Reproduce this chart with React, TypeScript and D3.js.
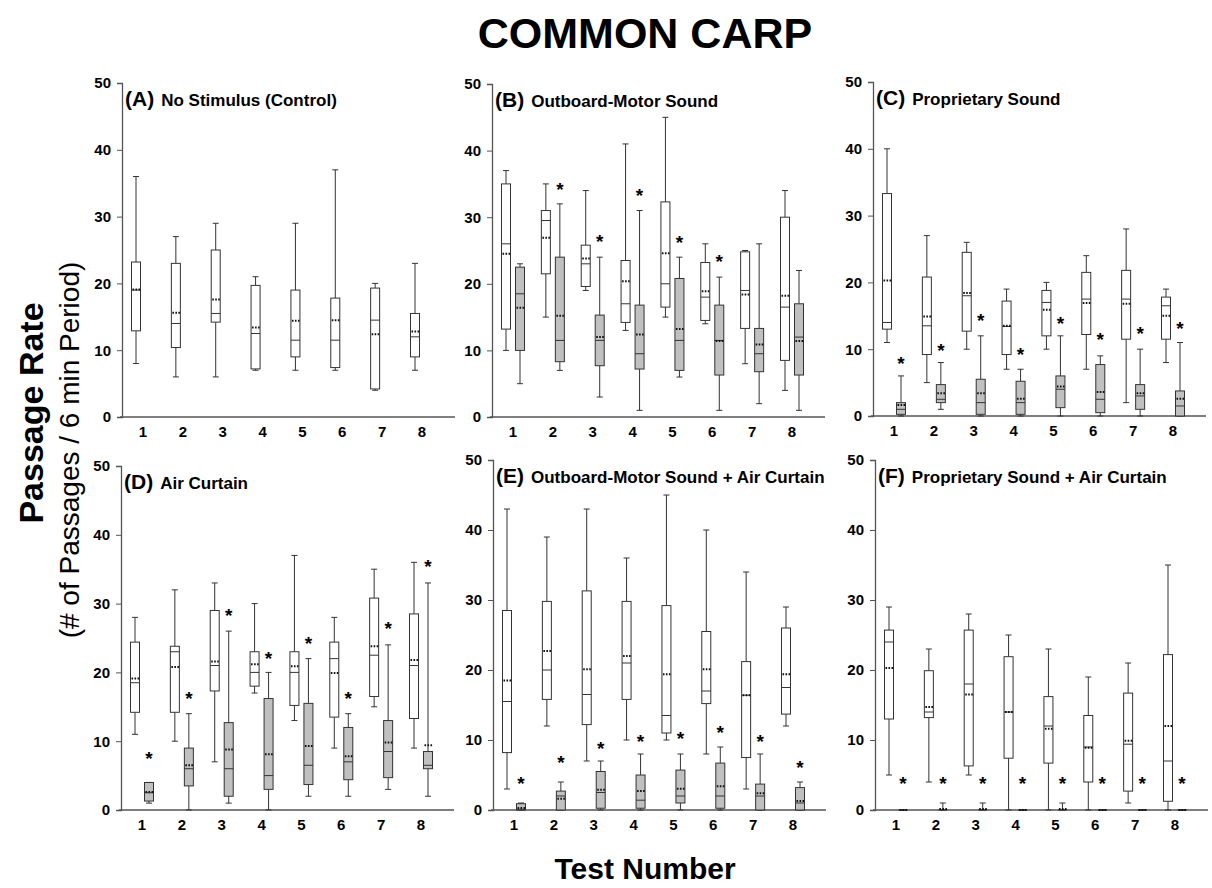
import React, { useEffect, useRef } from "react";
import * as d3 from "d3";

// each box: [whiskerLow, q1, median, q3, whiskerHigh, mean]
type Box = number[];

const tests = [1, 2, 3, 4, 5, 6, 7, 8];
const yTicks = [0, 10, 20, 30, 40, 50];

const panelTags = ["(A)", "(B)", "(C)", "(D)", "(E)", "(F)"];
const panelNames = [
  "No Stimulus (Control)",
  "Outboard-Motor Sound",
  "Proprietary Sound",
  "Air Curtain",
  "Outboard-Motor Sound + Air Curtain",
  "Proprietary Sound + Air Curtain",
];

// (A) control
const aOff: Box[] = [
  [8, 12.9, 19, 23.2, 36, 19.1],
  [6, 10.4, 14, 23, 27, 15.6],
  [6, 14.2, 15.5, 25, 29, 17.6],
  [7, 7.2, 12.5, 19.7, 21, 13.4],
  [7, 9, 11.5, 19, 29, 14.4],
  [7, 7.4, 11.5, 17.8, 37, 14.5],
  [4, 4.2, 14.5, 19.3, 20, 12.4],
  [7, 9, 12, 15.5, 23, 12.8],
];

// (B) outboard-motor sound
const bOff: Box[] = [
  [10, 13.2, 26, 35, 37, 24.5],
  [15, 21.5, 29.5, 31, 35, 26.9],
  [19, 19.6, 23, 25.8, 34, 23.8],
  [13, 14.2, 17, 23.5, 41, 20.4],
  [15, 16.5, 20, 32.3, 45, 24.6],
  [14, 14.5, 18, 23.2, 26, 18.9],
  [8, 13.3, 19, 24.8, 25, 18.4],
  [4, 8.5, 16.5, 30, 34, 18.2],
];
const bOn: Box[] = [
  [5, 10, 18.5, 22.5, 23, 16.4],
  [7, 8.3, 11.5, 24, 32, 15.2],
  [3, 7.7, 11.5, 15.3, 24, 12],
  [1, 7.2, 9.5, 16.8, 31, 12.4],
  [6, 7, 11.5, 20.8, 24, 13.2],
  [1, 6.3, 11.5, 16.8, 21, 11.4],
  [2, 6.8, 9.5, 13.3, 26, 10.9],
  [1, 6.3, 12, 17, 22, 11.4],
];
const bStars = [null, 34.8, 27, 33.9, 26.9, 24, null, null];

// (C) proprietary sound
const cOff: Box[] = [
  [11, 13, 14, 33.3, 40, 20.3],
  [5, 9.2, 13.5, 20.8, 27, 14.9],
  [10, 12.7, 18, 24.5, 26, 18.4],
  [7, 9.2, 13.4, 17.2, 19, 13.5],
  [10, 12, 17, 18.8, 20, 15.9],
  [7, 12.2, 17.5, 21.5, 24, 16.9],
  [2, 11.5, 17.5, 21.8, 28, 16.8],
  [8, 11.5, 16.5, 17.8, 19, 15],
];
const cOn: Box[] = [
  [0, 0.25, 1, 2, 6, 1.65],
  [1, 2, 2.5, 4.7, 8, 3.4],
  [0, 0.25, 2, 5.5, 12, 3.4],
  [0, 0.25, 2, 5.2, 7, 2.6],
  [0, 1.25, 4, 6, 12, 4.4],
  [0, 0.5, 2.5, 7.7, 9, 3.6],
  [0, 1, 3, 4.7, 10, 3.4],
  [0, 0, 1.5, 3.75, 11, 2.6],
];
const cStars = [8.5, 10.5, 15, 9.9, 14.5, 12.1, 13, 13.8];

// (D) air curtain
const dOff: Box[] = [
  [11, 14.2, 18.5, 24.4, 28, 19.1],
  [10, 14.2, 23, 23.8, 32, 20.8],
  [7, 17.3, 21, 29, 33, 21.6],
  [17, 18, 20, 23, 30, 21.2],
  [13, 15.2, 20, 23, 37, 20.9],
  [9, 13.5, 22, 24.4, 28, 19.9],
  [15, 16.5, 22.5, 30.8, 35, 23.8],
  [9, 13.3, 21, 28.5, 36, 21.8],
];
const dOn: Box[] = [
  [1, 1.3, 2.5, 4, 4, 2.6],
  [0, 3.5, 6, 9, 14, 6.5],
  [1, 2, 6, 12.7, 26, 8.8],
  [0, 3, 5, 16.2, 20, 8.1],
  [2, 3.7, 6.5, 15.5, 22, 9.3],
  [2, 4.4, 7, 12, 14, 7.8],
  [3, 4.7, 8.5, 13, 24, 9.8],
  [2, 6, 6.5, 8.5, 33, 9.4],
];
const dStars = [8.2, 16.9, 28.9, 22.7, 24.9, 16.9, 27, 36];

// (E) outboard-motor sound + air curtain
const eOff: Box[] = [
  [3, 8.2, 15.5, 28.5, 43, 18.5],
  [12, 15.8, 20, 29.8, 39, 22.7],
  [7, 12.2, 16.5, 31.3, 43, 20.1],
  [10, 15.8, 21, 29.8, 36, 22],
  [10, 11, 13.5, 29.2, 45, 19.4],
  [8, 15.2, 17, 25.5, 40, 20.1],
  [3, 7.5, 16.4, 21.2, 34, 16.4],
  [12, 13.7, 17.5, 26, 29, 19.4],
];
const eOn: Box[] = [
  [0, 0, 0.1, 0.9, 1, 0.3],
  [0, 0, 2, 2.7, 4, 1.6],
  [0, 0.25, 2.5, 5.5, 7, 2.9],
  [0, 0.25, 1.4, 5, 8, 2.7],
  [0, 1, 2, 5.7, 8, 3.05],
  [0, 0.25, 2, 6.7, 9, 3.4],
  [0, 0, 2, 3.7, 8, 2.4],
  [0, 0, 1, 3.2, 4, 1.3],
];
const eStars = [4.5, 7.4, 9.4, 10.5, 10.9, 11.7, 10.4, 6.7];

// (F) proprietary sound + air curtain
const fOff: Box[] = [
  [5, 13, 24, 25.7, 29, 20.3],
  [4, 13.2, 14, 19.9, 23, 14.7],
  [5, 6.3, 18, 25.7, 28, 16.5],
  [0, 7.4, 14, 21.9, 25, 14],
  [0, 6.7, 12, 16.2, 23, 11.6],
  [0, 4, 9, 13.5, 19, 8.9],
  [1, 2.7, 9.4, 16.7, 21, 9.9],
  [0, 1.25, 7, 22.2, 35, 12],
];
const fOn: Box[] = [
  [0, 0, 0, 0, 0, 0],
  [0, 0, 0, 0, 1, 0.15],
  [0, 0, 0, 0, 1, 0.15],
  [0, 0, 0, 0, 0, 0],
  [0, 0, 0, 0, 1, 0.15],
  [0, 0, 0, 0, 0, 0],
  [0, 0, 0, 0, 0, 0],
  [0, 0, 0, 0, 0, 0],
];
const fStars = [4.5, 4.5, 4.5, 4.5, 4.5, 4.5, 4.5, 4.5];

const offSeries = [aOff, bOff, cOff, dOff, eOff, fOff];
const onSeries = [null, bOn, cOn, dOn, eOn, fOn];
const starSeries = [null, bStars, cStars, dStars, eStars, fStars];

// panel frames (pixel layout)
const frames = [
  { x0: 122, top: 83, bottom: 417 },
  { x0: 492, top: 84, bottom: 417 },
  { x0: 873, top: 82, bottom: 416 },
  { x0: 121, top: 466, bottom: 810 },
  { x0: 493, top: 460, bottom: 810 },
  { x0: 875, top: 460, bottom: 810 },
];

const W = 1212;
const H = 888;
const FONT = "'Liberation Sans', Arial, sans-serif";

const App = () => {
  const svgRef = useRef(null);

  useEffect(() => {
    const svg = d3.select(svgRef.current);
    svg.selectAll("*").remove();

    svg
      .append("text")
      .attr("x", 645)
      .attr("y", 48)
      .attr("text-anchor", "middle")
      .attr("font-size", 43)
      .attr("font-weight", "bold")
      .text("COMMON CARP");

    svg
      .append("text")
      .attr("transform", "translate(43,413) rotate(-90)")
      .attr("text-anchor", "middle")
      .attr("font-size", 34)
      .attr("font-weight", "bold")
      .text("Passage Rate");

    svg
      .append("text")
      .attr("transform", "translate(79,450) rotate(-90)")
      .attr("text-anchor", "middle")
      .attr("font-size", 28)
      .text("(# of Passages / 6 min Period)");

    svg
      .append("text")
      .attr("x", 645)
      .attr("y", 879)
      .attr("text-anchor", "middle")
      .attr("font-size", 30)
      .attr("font-weight", "bold")
      .text("Test Number");

    const boxW = 9;
    const capW = 6;
    const off = 7;

    frames.forEach((f, i) => {
      const g = svg.append("g");
      const x = d3
        .scalePoint()
        .domain(tests.map(String))
        .range([f.x0 + 21, f.x0 + 300]);
      const y = d3.scaleLinear().domain([0, 50]).range([f.bottom, f.top]);

      // y axis
      const yAx = g
        .append("g")
        .attr("transform", `translate(${f.x0},0)`)
        .call(d3.axisLeft(y).tickValues(yTicks).tickSize(5).tickPadding(6));
      yAx.select(".domain").attr("stroke", "#555").attr("stroke-width", 1.3);
      yAx.selectAll(".tick line").attr("stroke", "#555");
      yAx
        .selectAll(".tick text")
        .attr("font-size", 15)
        .attr("font-weight", "bold")
        .attr("font-family", FONT)
        .attr("fill", "#000");

      // x axis
      g.append("line")
        .attr("x1", f.x0 - 2)
        .attr("x2", f.x0 + 333)
        .attr("y1", f.bottom)
        .attr("y2", f.bottom)
        .attr("stroke", "#555")
        .attr("stroke-width", 1.3);
      g.selectAll(".xl")
        .data(tests)
        .join("text")
        .attr("x", (d) => x(String(d)))
        .attr("y", f.bottom + 20)
        .attr("text-anchor", "middle")
        .attr("font-size", 15)
        .attr("font-weight", "bold")
        .text((d) => d);

      // panel title
      const t = g
        .append("text")
        .attr("x", f.x0 + 3)
        .attr("y", f.top + 23)
        .attr("font-weight", "bold");
      t.append("tspan").attr("font-size", 21).text(panelTags[i]);
      t.append("tspan").attr("dx", 7).attr("font-size", 17).text(panelNames[i]);

      const drawBoxes = (data, dx, fill) => {
        const bg = g.append("g");
        data.forEach((b, k) => {
          const cx = x(String(tests[k])) + dx;
          const [lo, q1, med, q3, hi, mean] = b;
          const ln = (x1, y1, x2, y2) =>
            bg
              .append("line")
              .attr("x1", x1)
              .attr("y1", y1)
              .attr("x2", x2)
              .attr("y2", y2)
              .attr("stroke", "#333")
              .attr("stroke-width", 1);
          // whiskers
          ln(cx, y(hi), cx, y(q3));
          ln(cx, y(q1), cx, y(lo));
          ln(cx - capW / 2, y(hi), cx + capW / 2, y(hi));
          ln(cx - capW / 2, y(lo), cx + capW / 2, y(lo));
          // box
          bg.append("rect")
            .attr("x", cx - boxW / 2)
            .attr("y", y(q3))
            .attr("width", boxW)
            .attr("height", Math.max(0, y(q1) - y(q3)))
            .attr("fill", fill)
            .attr("stroke", "#333")
            .attr("stroke-width", 1);
          // median
          ln(cx - boxW / 2, y(med), cx + boxW / 2, y(med));
          // mean (dotted)
          bg.append("line")
            .attr("x1", cx - boxW / 2 + 1)
            .attr("x2", cx + boxW / 2)
            .attr("y1", y(mean))
            .attr("y2", y(mean))
            .attr("stroke", "#111")
            .attr("stroke-width", 2)
            .attr("stroke-dasharray", "1.6,1.4");
        });
      };

      drawBoxes(offSeries[i], -off, "#fff");
      const on = onSeries[i];
      if (on) drawBoxes(on, off, "#c0c0c0");

      const stars = starSeries[i];
      if (stars) {
        g.selectAll(".star")
          .data(stars.map((v, k) => ({ v, k })).filter((d) => d.v != null))
          .join("text")
          .attr("x", (d) => x(String(tests[d.k])) + off)
          .attr("y", (d) => y(d.v) + 11)
          .attr("text-anchor", "middle")
          .attr("font-size", 19)
          .attr("font-weight", "bold")
          .text("*");
      }
    });
  }, []);

  return (
    <svg
      ref={svgRef}
      width={W}
      height={H}
      viewBox={`0 0 ${W} ${H}`}
      style={{ position: "absolute", left: 0, top: 0, background: "#fff", fontFamily: FONT }}
    />
  );
};

export default App;
